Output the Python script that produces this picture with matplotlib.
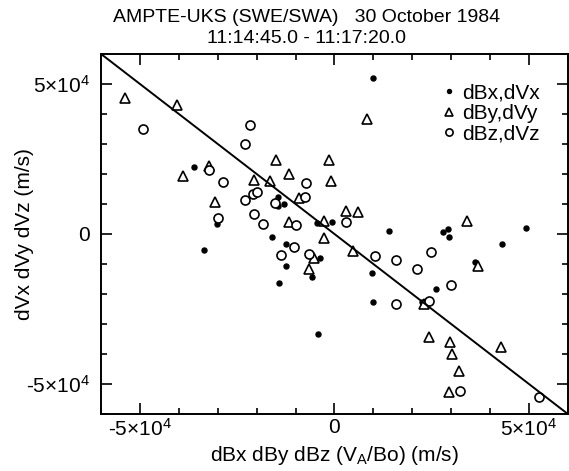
import matplotlib
matplotlib.use("Agg")
import matplotlib.pyplot as plt
import numpy as np
from matplotlib.ticker import FixedLocator, MultipleLocator

plt.rcParams["font.family"] = ["Liberation Sans", "DejaVu Sans"]
plt.rcParams["mathtext.fontset"] = "custom"
plt.rcParams["mathtext.rm"] = "Liberation Sans"
plt.rcParams["mathtext.it"] = "Liberation Sans:italic"

# values, in units of 1e4 m/s
bx = [1.00, -3.62, -3.03, -1.46, -1.46, -1.29, -0.46, -0.07, -1.61, -1.24,
      -1.24, -0.37, -0.57, -1.43, -3.34, -0.43, 1.41, 2.78, 2.91, 2.94,
      4.92, 4.30, 1.56, 0.97, 0.98, 3.62, 2.61, 2.25]
vx = [5.21, 2.22, 0.33, 1.24, 0.94, 0.99, 0.38, 0.41, -0.11, -0.34,
      -1.07, -0.81, -1.42, -1.64, -0.55, -3.34, 0.10, 0.06, 0.17, -0.09,
      0.19, -0.33, -0.88, -1.31, -2.27, -0.95, -1.83, -2.26]

by = [-5.38, -4.04, -3.88, -3.23, -3.07, -1.50, -2.06, -1.65, -1.17, -0.15,
      -0.08, -0.90, -1.16, -0.26, -0.27, -0.52, -0.66, 0.84, 0.30, 0.61,
      0.47, 3.41, 3.68, 2.29, 2.42, 2.96, 3.03, 3.19, 2.95, 4.29]
vy = [4.52, 4.30, 1.93, 2.28, 1.08, 2.45, 1.80, 1.76, 1.99, 2.48,
      1.76, 1.19, 0.41, 0.43, -0.12, -0.81, -1.16, 3.83, 0.78, 0.74,
      -0.57, 0.44, -1.06, -2.33, -3.42, -3.59, -4.00, -4.57, -5.26, -3.78]

bz = [-4.93, -2.18, -2.30, -3.23, -2.87, -2.31, -2.10, -1.99, -1.52, -0.73,
      -0.75, -2.98, -2.07, -1.84, -0.99, 0.30, -1.04, -1.37, -0.66, 1.04,
      1.59, 2.49, 2.11, 2.99, 1.59, 2.44, 3.24, 5.25]
vz = [3.51, 3.64, 3.00, 2.12, 1.72, 1.12, 1.32, 1.40, 1.04, 1.69,
      1.22, 0.53, 0.68, 0.33, 0.29, 0.41, -0.45, -0.69, -0.68, -0.74,
      -0.87, -0.60, -1.18, -1.70, -2.34, -2.23, -5.23, -5.42]

scale = 1e4
fit_x = [-6e4, 6e4]
fit_y = [6e4, -6e4]

fig = plt.figure(figsize=(5.69, 4.71), dpi=100)
ax = fig.add_axes([0.1775, 0.121, 0.8205, 0.7645])

ax.plot(np.array(bx) * scale, np.array(vx) * scale, "o", color="black",
        markersize=3.6, label="dBx,dVx")
ax.plot(np.array(by) * scale, np.array(vy) * scale, "^", color="black",
        markerfacecolor="white", markeredgewidth=1.2, markersize=6.5,
        label="dBy,dVy")
ax.plot(np.array(bz) * scale, np.array(vz) * scale, "o", color="black",
        markerfacecolor="white", markeredgewidth=1.2, markersize=6.5,
        label="dBz,dVz")
ax.plot(fit_x, fit_y, color="black", linewidth=1.4)

ax.set_xlim(-6e4, 6e4)
ax.set_ylim(-6e4, 6e4)

major = [-5e4, 0, 5e4]
labels = [r"-5$\mathregular{\times10^{4}}$", "0", r"5$\mathregular{\times10^{4}}$"]
ax.xaxis.set_major_locator(FixedLocator(major))
ax.yaxis.set_major_locator(FixedLocator(major))
ax.set_xticklabels(labels)
ax.set_yticklabels(labels)
ax.xaxis.set_minor_locator(MultipleLocator(1e4))
ax.yaxis.set_minor_locator(MultipleLocator(1e4))
ax.tick_params(which="both", direction="in", top=True, right=True,
               width=1.2, labelsize=15)
ax.tick_params(axis="x", which="major", length=8, pad=3)
ax.tick_params(axis="y", which="major", length=8, pad=8)
ax.tick_params(which="minor", length=4)
for s in ax.spines.values():
    s.set_linewidth(1.4)

ax.set_xlabel(r"dBx dBy dBz (V$\mathregular{_A}$/Bo) (m/s)", fontsize=15,
              labelpad=3)
ax.set_ylabel("dVx dVy dVz (m/s)", fontsize=15)
ax.yaxis.set_label_coords(-0.143, 0.5)

fig.text(0.538, 0.981, "AMPTE-UKS (SWE/SWA)   30 October 1984\n"
         "11:14:45.0 - 11:17:20.0", ha="center", va="top", fontsize=14,
         linespacing=1.3)

ax.legend(loc="upper right", bbox_to_anchor=(0.94, 0.918), frameon=False,
          fontsize=15, handlelength=0.6, handletextpad=0.35,
          labelspacing=0.08, borderaxespad=0.0, borderpad=0.0,
          markerscale=0.8)

fig.savefig("out.png", dpi=100)
